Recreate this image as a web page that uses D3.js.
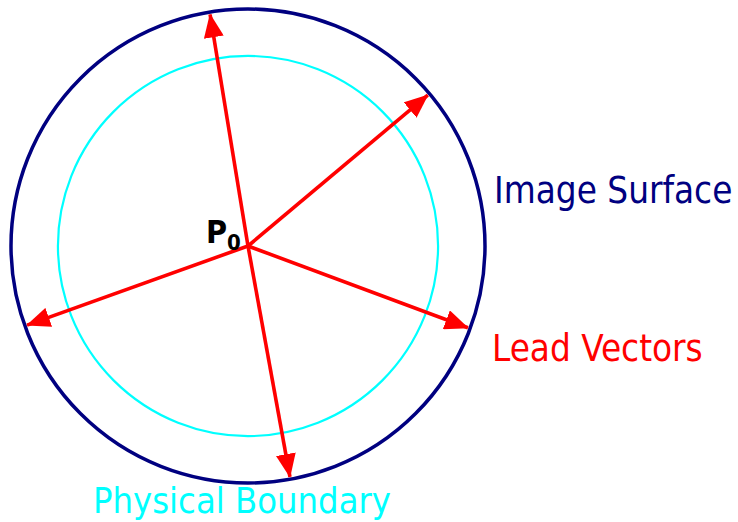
<!DOCTYPE html>
<html>
<head>
<meta charset="utf-8">
<script src="https://cdn.jsdelivr.net/npm/d3@7"></script>
<style>
  body { margin: 0; background: #fff; }
  svg text { font-family: "DejaVu Sans Condensed", "DejaVu Sans", sans-serif; }
</style>
</head>
<body>
<div id="graph"></div>
<script>
var width = 738,
    height = 522;

// circles, radius in units of the image surface radius
var circleNames = ["Image Surface", "Physical Boundary"];
var circleRadii = [1, 0.802];
var circleColors = ["#000080", "#00ffff"];

// lead vectors: direction (degrees, counter-clockwise from +x) and length
var leadAngles = [99.3, 40, -20.4, -79.7, 199.7];
var leadLengths = [0.99, 0.99, 0.99, 0.99, 0.99];

var labels = ["Image Surface", "Lead Vectors", "Physical Boundary"];

var svg = d3.select("#graph").append("svg")
    .attr("width", width)
    .attr("height", height);

var cx = 248, cy = 246, R = 237;

// unit coordinates -> pixels
var x = d3.scaleLinear().domain([-1, 1]).range([cx - R, cx + R]);
var y = d3.scaleLinear().domain([-1, 1]).range([cy + R, cy - R]);

svg.append("defs").append("marker")
    .attr("id", "head")
    .attr("viewBox", "0 0 24 20")
    .attr("refX", 23)
    .attr("refY", 10)
    .attr("markerUnits", "userSpaceOnUse")
    .attr("markerWidth", 24)
    .attr("markerHeight", 20)
    .attr("orient", "auto")
    .append("path")
    .attr("d", "M0,0L24,10L0,20Z")
    .attr("fill", "#ff0000");

svg.append("g")
    .selectAll("circle")
    .data(circleRadii)
    .enter()
        .append("circle")
        .attr("cx", x(0))
        .attr("cy", y(0))
        .attr("r", function(d) { return x(d) - x(0); })
        .attr("fill", "none")
        .attr("stroke", function(d, i) { return circleColors[i]; })
        .attr("stroke-width", function(d, i) { return i == 0 ? 3.5 : 2.2; });

var vectors = leadAngles.map(function(a, i) {
    var t = a * Math.PI / 180;
    return { x: leadLengths[i] * Math.cos(t), y: leadLengths[i] * Math.sin(t) };
});

svg.append("g")
    .selectAll("line")
    .data(vectors)
    .enter()
        .append("line")
        .attr("x1", x(0))
        .attr("y1", y(0))
        .attr("x2", function(d) { return x(d.x); })
        .attr("y2", function(d) { return y(d.y); })
        .attr("stroke", "#ff0000")
        .attr("stroke-width", 3.6)
        .attr("marker-end", "url(#head)");

// P0 label
var p0 = svg.append("text")
    .attr("x", 206)
    .attr("y", 243)
    .attr("font-weight", "bold")
    .attr("font-size", 32)
    .attr("fill", "#000");
p0.append("tspan").text("P");
p0.append("tspan").attr("font-size", 22).attr("dy", 7).text("0");

svg.append("text")
    .attr("x", 494).attr("y", 203)
    .attr("font-size", 36.5)
    .attr("fill", circleColors[0])
    .text(labels[0]);

svg.append("text")
    .attr("x", 492).attr("y", 361)
    .attr("font-size", 36.5)
    .attr("fill", "#ff0000")
    .text(labels[1]);

svg.append("text")
    .attr("x", 93).attr("y", 513)
    .attr("font-size", 36)
    .attr("fill", circleColors[1])
    .text(labels[2]);
</script>
</body>
</html>
